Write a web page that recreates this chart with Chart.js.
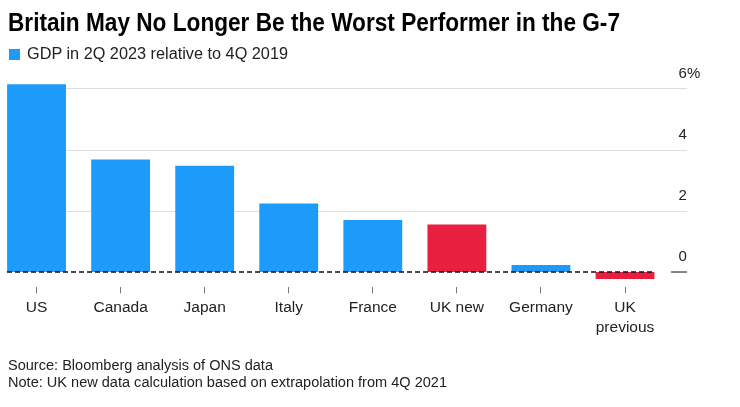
<!DOCTYPE html>
<html><head><meta charset="utf-8">
<script src="https://cdn.jsdelivr.net/npm/chart.js@4.4.0/dist/chart.umd.min.js"></script>
<style>
html,body{margin:0;padding:0;background:#fff;width:740px;height:407px;overflow:hidden;position:relative;font-family:"Liberation Sans",Arial,sans-serif;}
#wrap{position:absolute;left:-6px;top:0;width:746px;height:407px;}
.t{position:absolute;white-space:nowrap;line-height:1;transform-origin:0 0;}
#title{left:8px;top:9.8px;font-size:25px;font-weight:bold;color:#000;}
#leg{left:27px;top:45.5px;font-size:16px;color:#222;}
#sw{position:absolute;left:9px;top:49px;width:11px;height:11px;background:#1d9bfb;}
.note{left:8px;font-size:14px;color:#222;}
</style></head><body>
<div id="wrap"><canvas id="c" width="746" height="407"></canvas></div>
<div class="t" id="title" data-w="612">Britain May No Longer Be the Worst Performer in the G-7</div>
<div id="sw"></div>
<div class="t" id="leg" data-w="261"></div>
<div class="t note" style="top:358.2px" data-w="265">Source: Bloomberg analysis of ONS data</div>
<div class="t note" style="top:375.2px" data-w="439">Note: UK new data calculation based on extrapolation from 4Q 2021</div>
<script>
// ---- data ----
const categories = ['US', 'Canada', 'Japan', 'Italy', 'France', 'UK new', 'Germany', ['UK', 'previous']];
const gdpChange = [6.14, 3.68, 3.47, 2.24, 1.70, 1.55, 0.23, -0.23];
const yTicks = [0, 2, 4, 6];
const seriesLabel = 'GDP in 2Q 2023 relative to 4Q 2019';

// ---- style ----
const BLUE = '#1d9bfb';
const RED = '#e8203f';
const FONT = '"Liberation Sans", Arial, sans-serif';
const GRID_X0 = 13, GRID_X1 = 693, DASH_X1 = 661, SOLID_X0 = 677;

document.getElementById('leg').textContent = seriesLabel;
document.querySelectorAll('.t[data-w]').forEach(el => {
  const w = el.getBoundingClientRect().width;
  el.style.transform = 'scaleX(' + (parseFloat(el.dataset.w) / w) + ')';
});

const gridPlugin = {
  id: 'bbgGrid',
  beforeDatasetsDraw(chart) {
    const y = chart.scales.y, ctx = chart.ctx;
    ctx.save();
    ctx.strokeStyle = '#dddddd';
    ctx.lineWidth = 1;
    yTicks.forEach(v => {
      if (v === 0) return;
      const py = Math.round(y.getPixelForValue(v)) + 0.5;
      ctx.beginPath(); ctx.moveTo(GRID_X0, py); ctx.lineTo(GRID_X1, py); ctx.stroke();
    });
    ctx.restore();
  },
  afterDatasetsDraw(chart) {
    const y = chart.scales.y, ctx = chart.ctx;
    const py = y.getPixelForValue(0);
    ctx.save();
    ctx.strokeStyle = '#111';
    ctx.lineWidth = 1.6;
    ctx.setLineDash([5, 3]);
    ctx.beginPath(); ctx.moveTo(GRID_X0, py); ctx.lineTo(DASH_X1, py); ctx.stroke();
    ctx.setLineDash([]);
    ctx.strokeStyle = '#333';
    ctx.lineWidth = 1.2;
    ctx.beginPath(); ctx.moveTo(SOLID_X0, py); ctx.lineTo(GRID_X1, py); ctx.stroke();
    ctx.restore();
  }
};

new Chart(document.getElementById('c'), {
  type: 'bar',
  data: {
    labels: categories,
    datasets: [{
      label: seriesLabel,
      data: gdpChange,
      backgroundColor: categories.map(c => String(c).startsWith('UK') ? RED : BLUE),
      borderWidth: 0,
      barPercentage: 0.7,
      categoryPercentage: 1
    }]
  },
  options: {
    responsive: false,
    animation: false,
    devicePixelRatio: 1,
    layout: { padding: { left: 0.5, right: 0, top: 73.2, bottom: 59.7 } },
    plugins: { legend: { display: false }, tooltip: { enabled: false } },
    scales: {
      x: {
        grid: { display: true, offset: false, drawOnChartArea: false, drawTicks: true, tickLength: 6, color: '#777', lineWidth: 1 },
        border: { display: false },
        ticks: { color: '#222', padding: 4.2, maxRotation: 0, autoSkip: false, font: { family: FONT, size: 15.5, lineHeight: 1.3 } },
        afterFit(s) { s.height = 60; }
      },
      y: {
        position: 'right',
        min: -0.5,
        max: 6.5,
        afterBuildTicks(s) { s.ticks = yTicks.map(v => ({ value: v })); },
        grid: { display: false, drawTicks: false },
        border: { display: false },
        ticks: {
          color: '#222', padding: 11.5, labelOffset: -15, crossAlign: 'near',
          font: { family: FONT, size: 15 },
          callback: (v, i, t) => i === t.length - 1 ? v + '%' : String(v)
        },
        afterFit(s) { s.width = 72.94; }
      }
    }
  },
  plugins: [gridPlugin]
});
</script>
</body></html>
